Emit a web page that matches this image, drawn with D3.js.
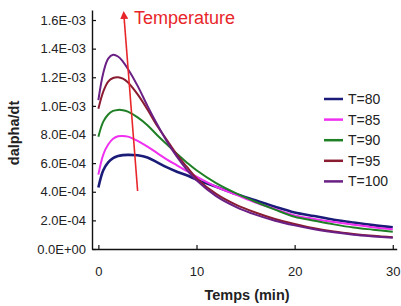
<!DOCTYPE html>
<html>
<head>
<meta charset="utf-8">
<script src="https://cdn.jsdelivr.net/npm/d3@7"></script>
<style>
  body { margin: 0; background: #fff; }
  text { font-family: "Liberation Sans", Arial, sans-serif; }
</style>
</head>
<body>
<div id="chart"></div>
<script>
// time (min)
var times = [0, 0.5, 1, 1.5, 2, 2.5, 3, 4, 5, 6, 7, 8, 9, 10, 12, 14, 16, 18, 20, 22, 24, 26, 28, 30];

// dalpha/dt, in units of 1E-04
var t80  = [4.3, 5.5, 6.05, 6.35, 6.5, 6.56, 6.58, 6.55, 6.4, 6.05, 5.7, 5.4, 5.15, 4.85, 4.35, 3.85, 3.4, 2.95, 2.55, 2.3, 2.05, 1.85, 1.67, 1.52];
var t85  = [5.2, 6.6, 7.3, 7.7, 7.88, 7.9, 7.85, 7.55, 7.15, 6.7, 6.25, 5.85, 5.45, 5.05, 4.35, 3.8, 3.25, 2.8, 2.35, 2.1, 1.88, 1.7, 1.52, 1.38];
var t90  = [7.85, 8.9, 9.4, 9.65, 9.72, 9.7, 9.6, 9.2, 8.65, 7.95, 7.3, 6.65, 6.05, 5.5, 4.6, 3.9, 3.3, 2.75, 2.25, 1.98, 1.72, 1.5, 1.35, 1.21];
var t95  = [9.8, 11.0, 11.7, 11.95, 12.0, 11.9, 11.65, 10.8, 9.75, 8.6, 7.6, 6.6, 5.75, 4.95, 3.85, 3.1, 2.55, 2.1, 1.75, 1.45, 1.22, 1.05, 0.92, 0.82];
var t100 = [10.4, 12.3, 13.3, 13.57, 13.45, 13.1, 12.6, 11.4, 10.0, 8.7, 7.5, 6.45, 5.55, 4.8, 3.7, 2.95, 2.4, 1.98, 1.65, 1.38, 1.17, 1.0, 0.88, 0.78];

var seriesNames = ["T=80", "T=85", "T=90", "T=95", "T=100"];
var seriesValues = [t80, t85, t90, t95, t100];
var seriesColors = ["#1b1b78", "#f030f0", "#1f7f25", "#8a1c32", "#6a1f84"];

var yTicks = [0, 2e-4, 4e-4, 6e-4, 8e-4, 1e-3, 1.2e-3, 1.4e-3, 1.6e-3];
var xTicks = [0, 10, 20, 30];

// the "Temperature" arrow, in data coordinates (min, dalpha/dt)
var arrowFrom = [4.0, 4.05e-4];
var arrowTo   = [2.6, 1.635e-3];

var width = 401, height = 306;

var svg = d3.select("#chart").append("svg")
  .attr("width", width)
  .attr("height", height);

var x = d3.scaleLinear().domain([-0.65, 30.4]).range([92, 396.7]);
var y = d3.scaleLinear().domain([0, 1.67e-3]).range([249, 10]);

// 1.6E-03 style labels
function fmtE(d) {
  if (d === 0) return "0.0E+00";
  var parts = d3.format(".1e")(d).split("e");
  var n = +parts[1];
  return parts[0] + "E" + (n < 0 ? "-" : "+") + String(Math.abs(n)).padStart(2, "0");
}

var yAxis = svg.append("g")
  .attr("transform", "translate(" + x.range()[0] + ",0)")
  .call(d3.axisLeft(y).tickValues(yTicks).tickFormat(fmtE).tickSize(-4).tickSizeOuter(0).tickPadding(6));

var xAxis = svg.append("g")
  .attr("transform", "translate(0," + y.range()[0] + ")")
  .call(d3.axisBottom(x).tickValues(xTicks).tickFormat(d3.format("d")).tickSize(-4).tickSizeOuter(0).tickPadding(18));

[xAxis, yAxis].forEach(function(g) {
  g.selectAll("text").attr("font-family", null).style("font-size", "13px").attr("fill", "#222");
  g.select(".domain").attr("stroke", "#111").attr("stroke-width", 1.4);
  g.selectAll(".tick line").attr("stroke", "#111").attr("stroke-width", 1.2);
});

var line = d3.line()
  .x(function(d) { return x(d[0]); })
  .y(function(d) { return y(d[1] * 1e-4); })
  .curve(d3.curveCatmullRom.alpha(0.5));

seriesValues.forEach(function(vals, i) {
  svg.append("path")
    .datum(times.map(function(t, j) { return [t, vals[j]]; }))
    .attr("d", line)
    .attr("fill", "none")
    .attr("stroke", seriesColors[i])
    .attr("stroke-width", i === 0 ? 2.6 : 2);
});

// arrow
svg.append("defs").append("marker")
  .attr("id", "head")
  .attr("viewBox", "0 0 10 10")
  .attr("refX", 5).attr("refY", 5)
  .attr("markerWidth", 5).attr("markerHeight", 5)
  .attr("orient", "auto")
  .append("path")
  .attr("d", "M0,0L10,5L0,10z")
  .attr("fill", "#e8262a");

svg.append("line")
  .attr("x1", x(arrowFrom[0])).attr("y1", y(arrowFrom[1]))
  .attr("x2", x(arrowTo[0])).attr("y2", y(arrowTo[1]))
  .attr("stroke", "#e8262a")
  .attr("stroke-width", 1.6)
  .attr("marker-end", "url(#head)");

svg.append("text")
  .attr("x", x(arrowTo[0]) + 10)
  .attr("y", y(arrowTo[1]) + 9)
  .style("font-size", "18px")
  .attr("fill", "#e8262a")
  .text("Temperature");

// legend
var legend = svg.append("g").attr("transform", "translate(324,99)");
seriesNames.forEach(function(name, i) {
  var row = legend.append("g").attr("transform", "translate(0," + (i * 20.6) + ")");
  row.append("line")
    .attr("x1", 0).attr("x2", 19)
    .attr("stroke", seriesColors[i])
    .attr("stroke-width", 2.5);
  row.append("text")
    .attr("x", 24)
    .attr("dy", "0.35em")
    .style("font-size", "14px")
    .attr("fill", "#222")
    .text(name);
});

// axis titles
svg.append("text")
  .attr("x", 247).attr("y", 300)
  .attr("text-anchor", "middle")
  .style("font-size", "14.5px")
  .style("font-weight", "bold")
  .attr("fill", "#222")
  .text("Temps (min)");

svg.append("text")
  .attr("transform", "translate(19,133) rotate(-90)")
  .attr("text-anchor", "middle")
  .style("font-size", "14.5px")
  .style("font-weight", "bold")
  .attr("fill", "#222")
  .text("dalpha/dt");
</script>
</body>
</html>
